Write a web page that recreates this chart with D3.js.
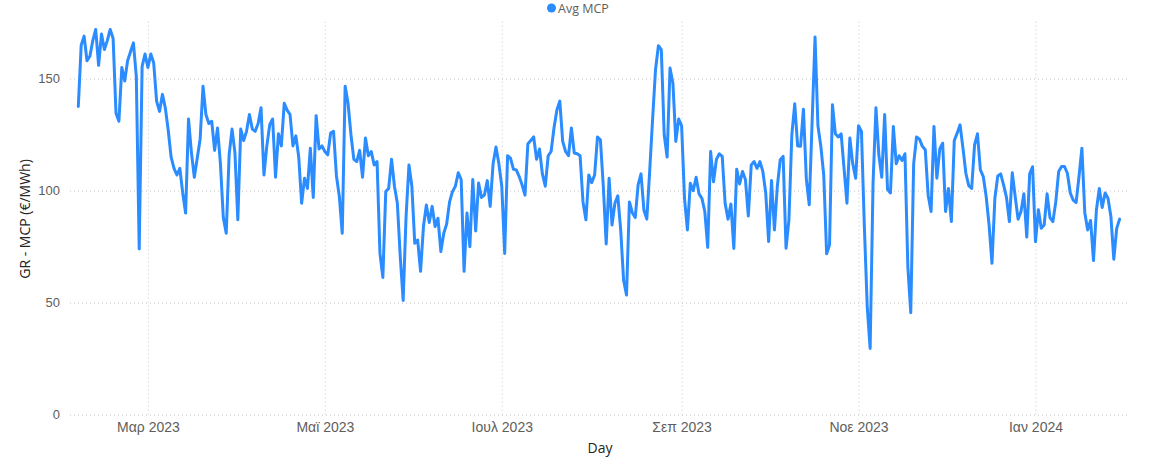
<!DOCTYPE html>
<html>
<head>
<meta charset="utf-8">
<script src="https://cdn.jsdelivr.net/npm/d3@7"></script>
<style>
  body { margin: 0; background: #fff; }
  svg { display: block; font-family: "Open Sans", "Noto Sans", sans-serif; }
</style>
</head>
<body>
<svg id="chart" width="1151" height="458"></svg>
<script>
// ---- data ----
const startDate = "2023-02-05";
const seriesName = "Avg MCP";
const xTitle = "Day";
const yTitle = "GR - MCP (€/MWh)";
const yTicks = [0, 50, 100, 150];
const monthNames = ["Ιαν","Φεβ","Μαρ","Απρ","Μαϊ","Ιουν","Ιουλ","Αυγ","Σεπ","Οκτ","Νοε","Δεκ"];
const values = [
  137.6,165,169,158,160,167,172,156,170,163,167,172,168,134.6,131,155,149,158,162,166,
  151,74,155.5,161,155,161,157,140,135.4,143,137,127,115,110,107,110,99,90,132,117,
  106,114.5,123,146.6,134,130,131,118,128,112,88,81,116,127.5,117,87,127.5,122.4,126.5,134,
  127.5,126.5,130,137,107,120,129.5,132,106,125.4,120,139,136,134,120,124.5,115,94.4,105.6,101,
  119,97,133.5,118.6,120,117.5,116,125.7,126.5,106.6,97.4,81,146.6,139,125,114,113,118,106,123.5,
  115.6,117.5,111.5,113,72,61.3,99.6,101,114,102,94.4,70.5,51,88.5,111.5,102,76.5,78,64,84,
  93.6,85.8,93,84,87.7,72.8,81,85.2,95,99.6,102,108,105,64,90,75,105,82,103.4,97,
  98,104.5,93,112,119.5,112,102,72,115.6,114.5,109.6,109.3,106.3,102.6,98,121,122.4,124,114,118.6,
  107.5,102,115.6,117.5,128,136,140,122,117.5,115.6,128,116.8,116.5,115.6,95,87,107,103.6,107,124,
  122.7,102,76.2,105.6,84.7,94.4,97.7,82.5,60,53.4,95,90.2,88,102.6,107.5,91.4,87.3,109,132,154,
  164.7,163,125,115,154.8,148,122,132,129,96.6,82.5,103.3,100,106,98.6,96.6,90.7,74.7,117.5,104,
  114,116.5,115.3,94.4,87.3,94,74.2,109.6,103,108.6,105,88.7,111.5,113,110,113,108.6,99,77.3,104.5,
  82.5,102,113.8,115.3,74.3,87,125,138.8,120,119.8,136.4,105.2,93.7,131,168.6,129,119.8,107,71.8,75.8,
  138.4,125.4,124,125.4,110,94.4,123.5,112,105.6,129,126.5,84,48,29.6,103.4,137,116,106,134,100.6,
  99,128.7,112,115.6,113.5,116.5,66,45.5,112,124,123,119.8,118.3,98,90.7,128.7,105.6,118.6,121.2,90.7,
  101,86.2,122.4,125.7,129.4,119,107.8,102.2,101,120.5,125.4,109.3,106.3,97.4,84.7,67.6,96.6,106.6,107.5,102.6,
  97,86.2,108,97.4,87.3,90.7,98.6,79.3,107.5,110.7,77.2,91.5,83.2,84.7,98.6,88,86.2,95,108.6,110.8,
  110.8,107.8,99,95.8,94.7,106.3,119,90.2,82.5,86.7,68.8,91.4,101,92.5,99,96.6,88.5,69.4,83.2,87.3
];

// ---- build ----
const parse = d3.timeParse("%Y-%m-%d");
const t0 = parse(startDate);
const data = values.map((v, i) => ({ date: d3.timeDay.offset(t0, i), value: v }));

const svg = d3.select("#chart");
const x = d3.scaleTime()
  .domain([t0, data[data.length - 1].date])
  .range([78.3, 1119.6]);
const y = d3.scaleLinear().domain([0, 150]).range([414.7, 78.7]);

const gridColor = "#c8c8c8";
const labelColor = "#605E5C";
const titleColor = "#252423";
const lineColor = "#2B8CFF";

// horizontal grid
const yAxis = d3.axisLeft(y).tickValues(yTicks).tickSize(-1058).tickPadding(10).tickFormat(d3.format("d"));
const gy = svg.append("g").attr("transform", "translate(70,0)").call(yAxis);
gy.select(".domain").remove();
gy.selectAll(".tick line").attr("stroke", gridColor).attr("stroke-dasharray", "1,3").attr("stroke-width", 1);
gy.selectAll(".tick text").attr("fill", labelColor).style("font-size", "13px").attr("x", -10);

// vertical grid + month labels
const monthTicks = d3.timeMonth.every(2).range(d3.timeMonth.ceil(t0), x.domain()[1]);
const xAxis = d3.axisBottom(x).tickValues(monthTicks).tickSize(-395).tickPadding(7)
  .tickFormat(d => monthNames[d.getMonth()] + " " + d.getFullYear());
const gx = svg.append("g").attr("transform", "translate(0,414.7)").call(xAxis);
gx.select(".domain").remove();
gx.selectAll(".tick line").attr("stroke", gridColor).attr("stroke-dasharray", "1,3").attr("stroke-width", 1);
gx.selectAll(".tick text").attr("fill", labelColor).style("font-size", "14px");

// line
const line = d3.line().x(d => x(d.date)).y(d => y(d.value));
svg.append("path").datum(data)
  .attr("d", line)
  .attr("fill", "none")
  .attr("stroke", lineColor)
  .attr("stroke-width", 3)
  .attr("stroke-linejoin", "round")
  .attr("stroke-linecap", "round");

// axis titles
svg.append("text").attr("x", 600).attr("y", 453).attr("text-anchor", "middle")
  .attr("fill", titleColor).style("font-size", "14px").text(xTitle);
svg.append("text").attr("transform", "translate(30,219) rotate(-90)").attr("text-anchor", "middle")
  .attr("fill", titleColor).style("font-size", "14px").text(yTitle);

// legend
const lg = svg.append("g");
lg.append("circle").attr("cx", 551.5).attr("cy", 8).attr("r", 4.5).attr("fill", lineColor);
lg.append("text").attr("x", 558).attr("y", 12.5).attr("fill", labelColor)
  .style("font-size", "12.5px").text(seriesName);
</script>
</body>
</html>
